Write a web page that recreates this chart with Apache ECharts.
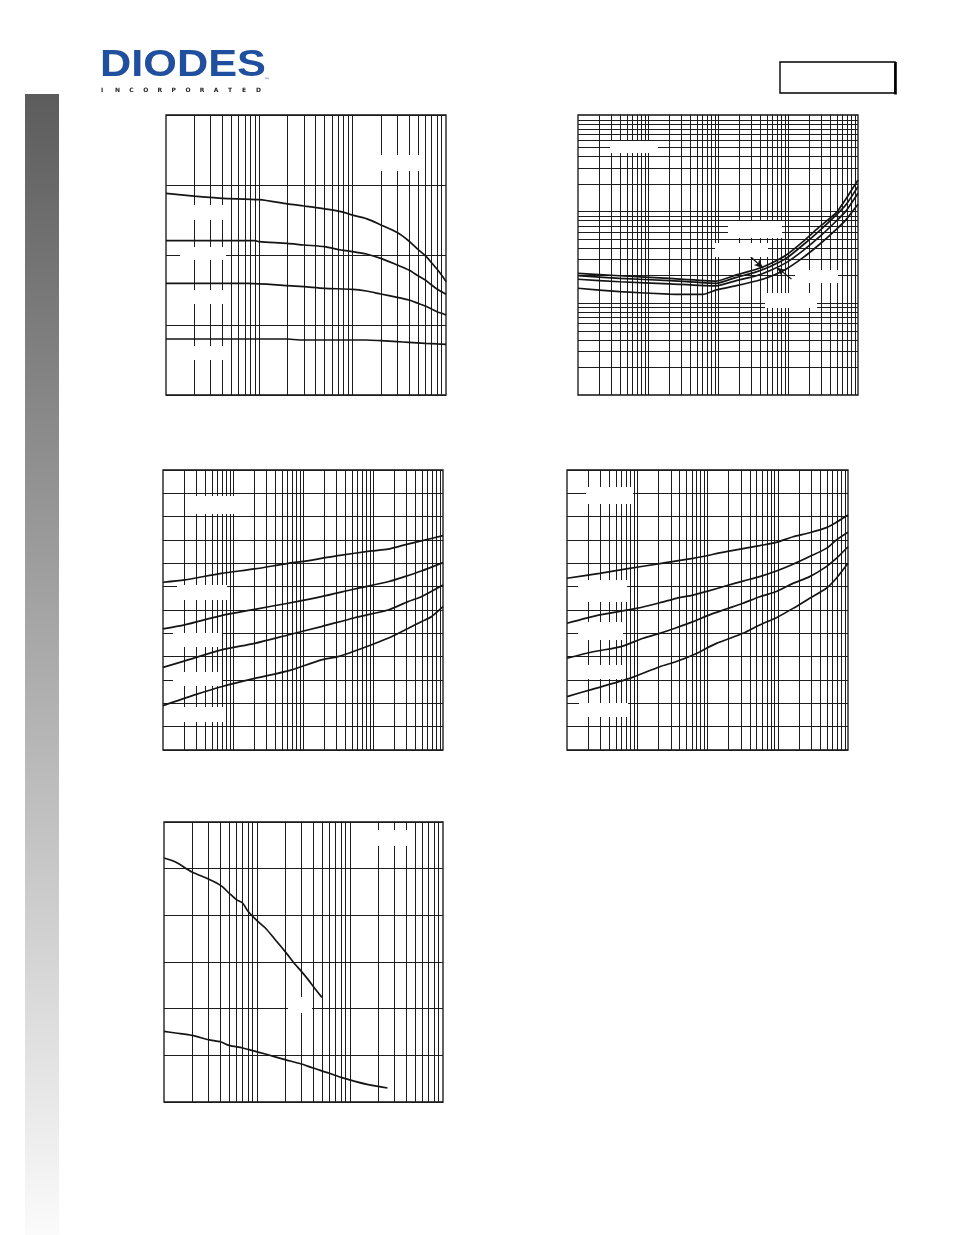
<!DOCTYPE html>
<html><head><meta charset="utf-8">
<script src="https://cdn.jsdelivr.net/npm/echarts@6/dist/echarts.min.js"></script>
<style>html,body{margin:0;padding:0;background:#fff}#c{width:954px;height:1235px}</style>
</head><body><div id="c"></div>
<script>
// ---------- Chart 1 : linear y, log x (3 decades) ----------
const ch1XTicks = [2,3,4,5,6,7,8,9,10,20,30,40,50,60,70,80,90,100,200,300,400,500,600,700,800,900];
const ch1A_x = [1,2,4,10,20,30,50,75,100,140,200,300,400,500,600,700,800,900,1000];
const ch1A_y = [288,284,281,279,273,270,266,262,257,252,243,232,220,208,199,189,180,171,162];
const ch1B_x = [1,9,10,20,30,50,75,100,140,200,300,400,500,600,700,800,900,1000];
const ch1B_y = [220.5,220.5,219,216.7,214.3,211.9,207.1,204.8,201.4,195.2,185.7,178.6,170.5,164.3,157.1,151.4,147.6,143.8];
const ch1C_x = [1,7.6,20,30,50,100,140,200,300,400,500,600,700,800,900,1000];
const ch1C_y = [159.5,159.5,156.2,154.8,152.4,151,148.6,144.3,139.5,135.7,131,127.1,122.9,119,116.7,114.3];
const ch1D_x = [1,20,27,50,140,200,300,400,600,800,1000];
const ch1D_y = [80,80,78.6,78.6,78.6,77.6,76.2,75.2,73.8,72.9,72.4];

// ---------- Chart 2 : log-log ----------
const ch2XTicks = [2,3,4,5,6,7,8,9,10,20,30,40,50,60,70,80,90,100,200,300,400,500,600,700,800,900,1000,2000,3000,4000,5000,6000,7000,8000,9000];
const ch2YTicks = [2,3,4,5,6,7,8,9,10,20,30,40,50,60,70,80,90,100,200,300,400,500,600,700,800,900,1000];
const ch2A_x = [1,3.94,20.4,94.7,183,353,547,946,1638,2834,4900,6808,10000];
const ch2A_y = [21.2,20.0,18.7,17.5,20.4,23.5,26.9,33.7,47.1,68.5,97.5,139.6,221];
const ch2B_x = [1,3.94,20.4,94.7,183,353,547,946,1638,2834,4900,6808,10000];
const ch2B_y = [20.0,18.7,17.7,16.5,19.2,22.0,25.1,31.0,43.3,62.1,92.0,120.2,187.5];
const ch2C_x = [1,3.94,20.4,94.7,183,353,547,946,1638,2834,4900,6808,10000];
const ch2C_y = [18.3,17.2,16.3,15.5,17.7,20.0,22.7,27.8,37.6,53.3,79.1,102.6,158.5];
const ch2D_x = [1,3.94,20.4,61,94.7,183,353,547,946,1638,2834,4900,6808,10000];
const ch2D_y = [14.6,13.4,12.6,12.5,14.0,15.6,17.5,19.5,23.7,31.5,44.1,64.1,82.4,120.2];
const ch2Arrow1 = [[268,34.3],[440,24.1]];
const ch2Arrow2 = [[1119,18.4],[696,24.5]];

// ---------- Chart 3 : linear y 0..1.2, log x (4 decades) ----------
const ch34XTicks = [2,3,4,5,6,7,8,9,10,20,30,40,50,60,70,80,90,100,200,300,400,500,600,700,800,900,1000,2000,3000,4000,5000,6000,7000,8000,9000];
const ch3A_x = [1,2.04,6.81,20.4,61.1,94.7,183,316,946,1638,2834,4900,10000];
const ch3A_y = [0.719,0.729,0.757,0.776,0.800,0.807,0.821,0.833,0.853,0.861,0.879,0.896,0.919];
const ch3B_x = [1,2.04,6.81,20.4,61.1,183,547,1638,2834,4900,10000];
const ch3B_y = [0.519,0.536,0.576,0.603,0.629,0.657,0.690,0.721,0.743,0.767,0.803];
const ch3C_x = [1,2.28,6.81,20.4,61.1,183,547,1638,3162,4900,10000];
const ch3C_y = [0.354,0.386,0.429,0.457,0.493,0.529,0.567,0.600,0.636,0.657,0.707];
const ch3D_x = [1,2.83,6.81,20.4,61.1,183,316,547,1638,3162,4900,6810,10000];
const ch3D_y = [0.190,0.236,0.271,0.307,0.339,0.386,0.400,0.424,0.479,0.521,0.550,0.571,0.614];

// ---------- Chart 4 : linear y 0..1.2, log x (4 decades) ----------
const ch4A_x = [1,2.92,7.0,20.9,62.2,185,553,955,1650,2846,4920,6823,10000];
const ch4A_y = [0.736,0.757,0.776,0.799,0.821,0.850,0.876,0.890,0.914,0.931,0.953,0.976,1.007];
const ch4B_x = [1,2.92,9.7,20.9,36,62.2,107,185,320,553,955,1650,2846,4920,6823,10000];
const ch4B_y = [0.543,0.579,0.607,0.631,0.650,0.664,0.683,0.704,0.724,0.743,0.767,0.796,0.829,0.864,0.900,0.933];
const ch4C_x = [1,2.34,5.93,12.1,20.9,36,62.2,107,185,320,553,955,1650,2846,4920,6823,10000];
const ch4C_y = [0.393,0.421,0.443,0.479,0.500,0.524,0.550,0.579,0.604,0.629,0.657,0.679,0.714,0.743,0.786,0.821,0.871];
const ch4D_x = [1,2.34,7.8,20.9,36,62.2,134,320,553,955,1650,2846,4920,6823,10000];
const ch4D_y = [0.229,0.261,0.307,0.357,0.379,0.407,0.457,0.500,0.536,0.567,0.607,0.650,0.693,0.736,0.800];

// ---------- Chart 5 : linear y 0..30, log x 0.1..100 ----------
const ch5XTicks = [0.2,0.3,0.4,0.5,0.6,0.7,0.8,0.9,1,2,3,4,5,6,7,8,9,10,20,30,40,50,60,70,80,90];
const ch5A_x = [0.1,0.133,0.2,0.3,0.41,0.5,0.6,0.7,0.8,1,1.23,1.57,2,2.55,3,3.55,4.2,5];
const ch5A_y = [26.14,25.71,24.64,23.89,23.18,22.39,21.68,21.32,20.43,19.43,18.64,17.39,16.14,14.79,14.0,13.11,12.14,11.21];
const ch5B_x = [0.1,0.133,0.2,0.3,0.41,0.5,0.7,0.9,1.23,2,3,4,5.9,8,11.3,15.7,20,25.3];
const ch5B_y = [7.57,7.39,7.14,6.68,6.43,6.07,5.79,5.5,5.14,4.54,4.07,3.64,3.11,2.64,2.21,1.86,1.68,1.5];

const logoWord = 'DIODES';
const logoSub = 'INCORPORATED';

// ---------- build ----------
const INK = '#151515';
const GRIDC = '#1c1c1c';
function pairs(xs, ys){ return xs.map((x,i)=>[x, ys[i]]); }
function curve(gi, xs, ys, extra){
  return Object.assign({type:'line', xAxisIndex:gi, yAxisIndex:gi, data:pairs(xs,ys), symbol:'none',
    smooth:0.25, silent:true, z:5, lineStyle:{color:INK, width:1.7}}, extra||{});
}
function gridLines(xv, yv){
  return {silent:true, symbol:['none','none'], label:{show:false}, emphasis:{disabled:true}, animation:false,
    lineStyle:{color:GRIDC, width:1, type:'solid'},
    data:[...xv.map(v=>({xAxis:v})), ...(yv||[]).map(v=>({yAxis:v}))]};
}
function logAxis(gi, min, max){
  return {type:'log', gridIndex:gi, min:min, max:max, logBase:10, axisLine:{show:false}, axisTick:{show:false},
    axisLabel:{show:false}, splitLine:{show:false}, minorTick:{show:false}, minorSplitLine:{show:false}};
}
function linAxis(gi, min, max, interval){
  return {type:'value', gridIndex:gi, min:min, max:max, interval:interval, axisLine:{show:false}, axisTick:{show:false},
    axisLabel:{show:false}, splitLine:{show:true, lineStyle:{color:GRIDC, width:1}}};
}
const gridBase = {show:true, borderColor:'#111', borderWidth:1.3, backgroundColor:'transparent', containLabel:false};

const whiteBoxes = [
  [380,155,42,16],[180,205,46,15],[180,247,46,13],[180,290,46,14],[180,346,46,14],
  [610,141,48,12],[728,221,54,17],[715,243,53,14],[795,270,43,13],[765,293,52,15],
  [187,496,66,18],[177,585,50,15],[173,633,49,14],[173,672,49,14],[175,707,50,15],
  [586,487,47,17],[578,580,49,22],[578,622,45,18],[578,665,47,14],[579,703,49,14],
  [375,830,35,16],[288,997,24,16]
];

const graphic = [
  {type:'rect', shape:{x:25,y:94,width:34,height:1141}, z:1,
    style:{fill:new echarts.graphic.LinearGradient(0,0,0,1,[{offset:0,color:'#5c5c5c'},{offset:1,color:'#fbfbfb'}])}},
  {type:'text', x:100, y:47, scaleX:1.17, z:10,
    style:{text:logoWord, font:'bold 37px "Liberation Sans", Arial, sans-serif', fill:'#1f4f9e'}},
  {type:'text', x:264, y:77, z:10, style:{text:'™', font:'6px "DejaVu Sans"', fill:'#1f4f9e'}},
  ...logoSub.split('').map((ch,i)=>({type:'text', x:101+i*14.1, y:87, z:10,
    style:{text:ch, font:'bold 6px "DejaVu Sans"', fill:'#222'}})),
  {type:'rect', shape:{x:780,y:62,width:115,height:31}, z:10, style:{fill:'none', stroke:'#000', lineWidth:1.4}},
  {type:'line', shape:{x1:895.5,y1:62,x2:895.5,y2:94.5}, z:10, style:{stroke:'#000', lineWidth:2.6}},
  ...whiteBoxes.map(b=>({type:'rect', shape:{x:b[0],y:b[1],width:b[2],height:b[3]}, z:50, silent:true, style:{fill:'#fff'}}))
];

const option = {
  animation:false,
  backgroundColor:'#fff',
  grid:[
    Object.assign({left:166, top:115, width:280, height:280}, gridBase),
    Object.assign({left:578, top:115, width:280, height:280}, gridBase),
    Object.assign({left:163, top:470, width:280, height:280}, gridBase),
    Object.assign({left:567, top:470, width:281, height:280}, gridBase),
    Object.assign({left:164, top:822, width:279, height:280}, gridBase)
  ],
  xAxis:[logAxis(0,1,1000), logAxis(1,1,10000), logAxis(2,1,10000), logAxis(3,1,10000), logAxis(4,0.1,100)],
  yAxis:[linAxis(0,0,400,100), logAxis(1,1,1133), linAxis(2,0,1.2,0.1), linAxis(3,0,1.2,0.1), linAxis(4,0,30,5)],
  series:[
    curve(0, ch1A_x, ch1A_y, {markLine:gridLines(ch1XTicks)}),
    curve(0, ch1B_x, ch1B_y), curve(0, ch1C_x, ch1C_y), curve(0, ch1D_x, ch1D_y),
    curve(1, ch2A_x, ch2A_y, {smooth:0.15, markLine:gridLines(ch2XTicks, ch2YTicks)}),
    curve(1, ch2B_x, ch2B_y, {smooth:0.15, markLine:{silent:true, symbol:['none','arrow'], symbolSize:[6,9], label:{show:false},
      emphasis:{disabled:true}, lineStyle:{color:INK, width:1.2, type:'solid'},
      data:[[{coord:ch2Arrow1[0]},{coord:ch2Arrow1[1]}],[{coord:ch2Arrow2[0]},{coord:ch2Arrow2[1]}]]}}),
    curve(1, ch2C_x, ch2C_y, {smooth:0.15}), curve(1, ch2D_x, ch2D_y, {smooth:0.15}),
    curve(2, ch3A_x, ch3A_y, {markLine:gridLines(ch34XTicks)}),
    curve(2, ch3B_x, ch3B_y), curve(2, ch3C_x, ch3C_y), curve(2, ch3D_x, ch3D_y),
    curve(3, ch4A_x, ch4A_y, {markLine:gridLines(ch34XTicks)}),
    curve(3, ch4B_x, ch4B_y), curve(3, ch4C_x, ch4C_y), curve(3, ch4D_x, ch4D_y),
    curve(4, ch5A_x, ch5A_y, {markLine:gridLines(ch5XTicks)}),
    curve(4, ch5B_x, ch5B_y)
  ],
  graphic: graphic
};
const chart = echarts.init(document.getElementById('c'), null, {renderer:'canvas'});
chart.setOption(option);
</script></body></html>
